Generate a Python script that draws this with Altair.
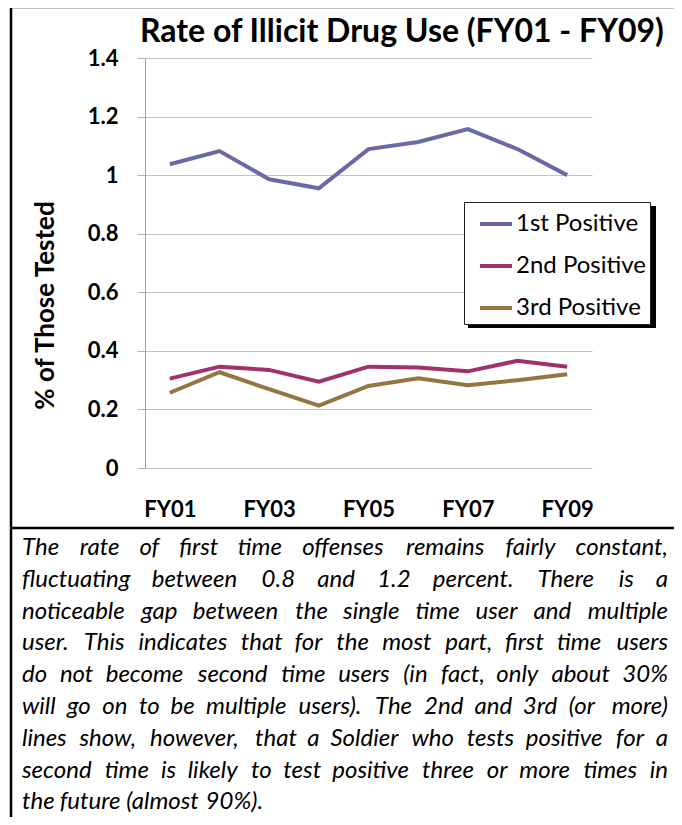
import altair as alt
import pandas as pd

years = ["FY01", "FY02", "FY03", "FY04", "FY05", "FY06", "FY07", "FY08", "FY09"]
first_positive = [1.037, 1.082, 0.986, 0.955, 1.089, 1.113, 1.157, 1.089, 1.0]
second_positive = [0.305, 0.346, 0.335, 0.295, 0.346, 0.343, 0.330, 0.366, 0.346]
third_positive = [0.257, 0.327, 0.269, 0.213, 0.280, 0.306, 0.283, 0.300, 0.320]
series_names = ["1st Positive", "2nd Positive", "3rd Positive"]
series_colors = ["#6A69A8", "#A2306A", "#957540"]
x_labels = ["FY01", "FY03", "FY05", "FY07", "FY09"]
y_ticks = [0, 0.2, 0.4, 0.6, 0.8, 1.0, 1.2, 1.4]
title_text = "Rate of Illicit Drug Use (FY01 - FY09)"
y_title = "% of Those Tested"
caption_lines = [
    "The rate of first time offenses remains fairly constant,",
    "fluctuating between 0.8 and 1.2 percent.  There is a",
    "noticeable gap between the single time user and multiple",
    "user.  This indicates that for the most part, first time users",
    "do not become second time users (in fact, only about 30%",
    "will go on to be multiple users).  The 2nd and 3rd (or more)",
    "lines show, however, that a Soldier who tests positive for a",
    "second time is likely to test positive three or more times in",
    "the future (almost 90%).",
]

rows = []
for name, vals in zip(series_names, [first_positive, second_positive, third_positive]):
    for yr, v in zip(years, vals):
        rows.append({"year": yr, "series": name, "value": v})
df = pd.DataFrame(rows)

W, H = 447, 410
FONT = "Lato"
one = alt.Data(values=[{}])

# ---- justified caption layout (approximate glyph advance widths, em) ----
CAP_FS = 24
CAP_LEFT, CAP_RIGHT = -123, 523
CAP_Y0, CAP_LH = 497, 31.8
glyph_w = {
    "a": .49, "b": .54, "c": .45, "d": .54, "e": .50, "f": .31, "g": .49, "h": .54,
    "i": .23, "j": .23, "k": .49, "l": .23, "m": .81, "n": .54, "o": .54, "p": .54,
    "q": .54, "r": .35, "s": .41, "t": .33, "u": .54, "v": .49, "w": .74, "x": .47,
    "y": .49, "z": .44, "T": .56, "S": .50, ".": .23, ",": .23, "(": .30, ")": .30,
    "%": .76,
}


def word_width(w):
    return sum(glyph_w.get(ch, .58) for ch in w) * CAP_FS


word_rows = []
for i, line in enumerate(caption_lines):
    words = line.split()
    widths = [word_width(w) for w in words]
    last = i == len(caption_lines) - 1
    if last or len(words) < 2:
        gap = 0.2 * CAP_FS
    else:
        gap = (CAP_RIGHT - CAP_LEFT - sum(widths)) / (len(words) - 1)
    xpos = CAP_LEFT
    for j, (w, wd) in enumerate(zip(words, widths)):
        if not last and j == len(words) - 1:
            word_rows.append({"word": w, "px": CAP_RIGHT, "py": CAP_Y0 + i * CAP_LH, "al": "right"})
        else:
            word_rows.append({"word": w, "px": xpos, "py": CAP_Y0 + i * CAP_LH, "al": "left"})
        xpos += wd + gap
words_df = pd.DataFrame(word_rows)

lines = alt.Chart(df).mark_line(strokeWidth=4).encode(
    x=alt.X(
        "year:O",
        sort=years,
        scale=alt.Scale(type="point", padding=0.5),
        axis=alt.Axis(
            values=x_labels, title=None, labelAngle=0, domain=False, ticks=False,
            grid=False, labelFont=FONT, labelFontWeight="bold", labelFontSize=22,
            labelColor="black", labelPadding=31,
        ),
    ),
    y=alt.Y(
        "value:Q",
        scale=alt.Scale(domain=[0, 1.4], nice=False, zero=True),
        axis=alt.Axis(
            values=y_ticks, format=".1~f", title=y_title,
            titleFont=FONT, titleFontSize=26, titleFontWeight="bold", titleColor="black",
            titleX=-100, titleY=247, titleAngle=270, titleAlign="center", titleBaseline="middle",
            labelFont=FONT, labelFontSize=22, labelFontWeight="bold", labelColor="black",
            labelPadding=19, tickSize=8, tickColor="#b0b0b0", domainColor="#a0a0a0",
            gridColor="#c4c4c4", grid=True,
        ),
    ),
    color=alt.Color(
        "series:N",
        scale=alt.Scale(domain=series_names, range=series_colors),
        legend=alt.Legend(
            title=None, orient="none", legendX=319, legendY=144,
            symbolType="stroke", symbolStrokeWidth=4, symbolSize=1024, symbolOffset=10,
            labelFont=FONT, labelFontSize=24, labelColor="black", labelOffset=2,
            labelExpr="datum.label + '\u00a0\u00a0'",
            rowPadding=12, padding=4, strokeColor="#222222", fillColor="white",
        ),
    ),
)

shadow = alt.Chart(one).mark_rect(color="black").encode(
    x=alt.value(323), x2=alt.value(511), y=alt.value(148), y2=alt.value(270)
)

title = alt.Chart(one).mark_text(
    text=title_text, font=FONT, fontSize=32, fontWeight="bold", color="black",
    align="left", baseline="alphabetic",
).encode(x=alt.value(-5), y=alt.value(-16))

caption_left = alt.Chart(words_df).transform_filter("datum.al == 'left'").mark_text(
    font=FONT, fontSize=CAP_FS, fontStyle="italic", color="black",
    align="left", baseline="alphabetic",
).encode(
    x=alt.X("px:Q", scale=None, axis=None),
    y=alt.Y("py:Q", scale=None, axis=None),
    text="word:N",
)
caption_right = alt.Chart(words_df).transform_filter("datum.al == 'right'").mark_text(
    font=FONT, fontSize=CAP_FS, fontStyle="italic", color="black",
    align="right", baseline="alphabetic",
).encode(
    x=alt.X("px:Q", scale=None, axis=None),
    y=alt.Y("py:Q", scale=None, axis=None),
    text="word:N",
)

border_left = alt.Chart(one).mark_rule(color="black", strokeWidth=2.5).encode(
    x=alt.value(-134), y=alt.value(-51), y2=alt.value(770)
)
border_top = alt.Chart(one).mark_rule(color="black", strokeWidth=2.5).encode(
    x=alt.value(-134), x2=alt.value(530), y=alt.value(-51)
)
border_mid = alt.Chart(one).mark_rule(color="black", strokeWidth=2.5).encode(
    x=alt.value(-134), x2=alt.value(530), y=alt.value(470)
)

chart = alt.layer(
    shadow, lines, title, caption_left, caption_right, border_left, border_top, border_mid
).resolve_scale(
    x="independent", y="independent"
).properties(
    width=W, height=H,
    padding={"left": 137, "top": 50, "right": 82, "bottom": 349},
    autosize=alt.AutoSizeParams(type="none"),
    background="white",
).configure_view(stroke=None)

chart.save("out.html", embed_options={"renderer": "svg", "actions": False})
